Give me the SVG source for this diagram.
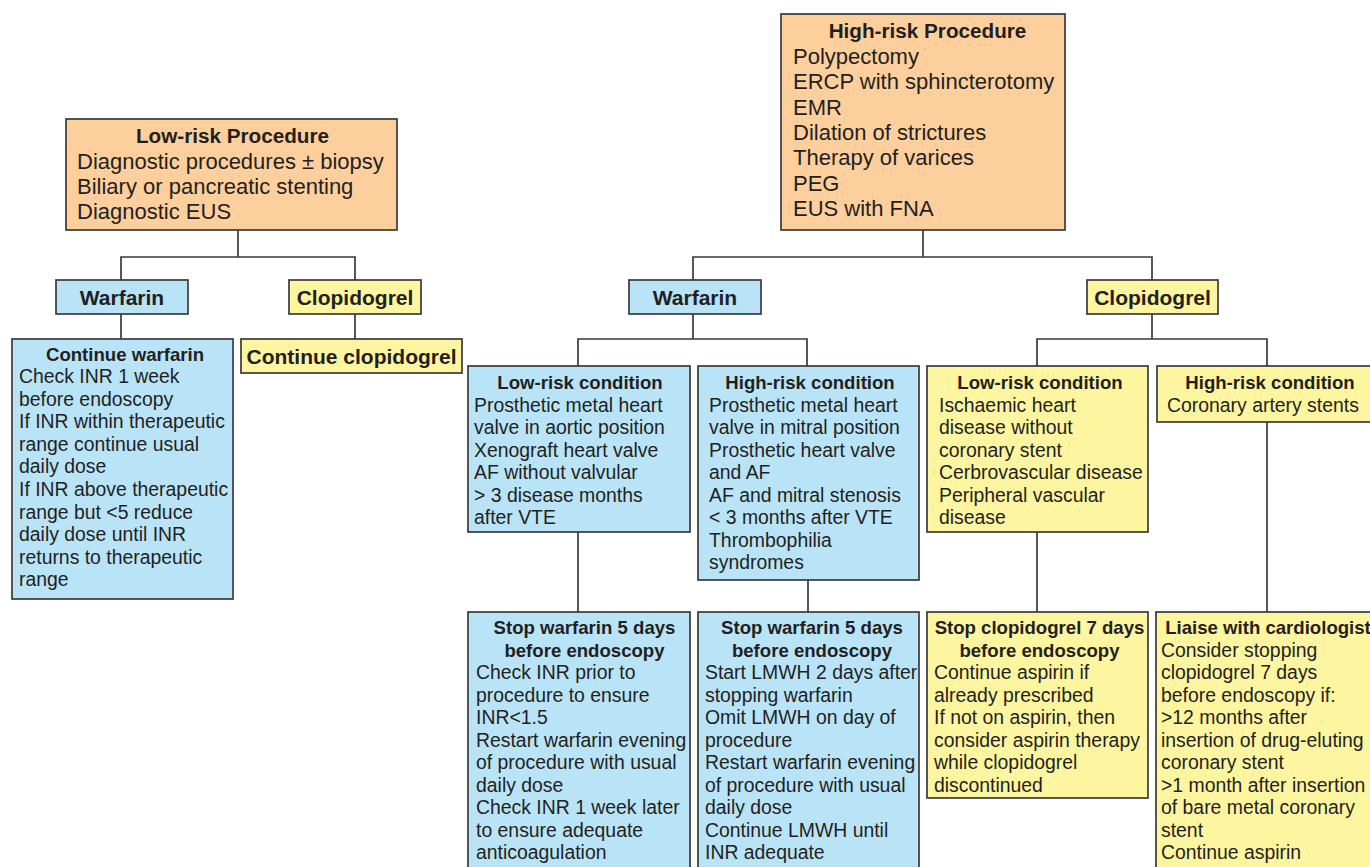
<svg xmlns="http://www.w3.org/2000/svg" width="1370" height="867" viewBox="0 0 1370 867">
<style>
  .o { fill: #FDCF9C; stroke: #3a3a3a; stroke-width: 1.7; }
  .b { fill: #B9E4F8; stroke: #3a3a3a; stroke-width: 1.7; }
  .y { fill: #FEF5A0; stroke: #3a3a3a; stroke-width: 1.7; }
  text { font-family: "Liberation Sans", Arial, sans-serif; fill: #231F20; }
  .th { font-size: 20.7px; font-weight: bold; text-anchor: middle; }
  .tb { font-size: 22px; }
  .lb { font-size: 21px; font-weight: bold; text-anchor: middle; }
  .h { font-size: 18.6px; font-weight: bold; text-anchor: middle; }
  .t { font-size: 19.4px; }
  .con { fill: none; stroke: #3a3a3a; stroke-width: 1.7; }
</style>
<rect width="1370" height="867" fill="#ffffff"/>

<g id="connectors" class="con">
  <path d="M238 230 V257 M121 280 V257 H355 V280"/>
  <path d="M121 314 V339 M355 314 V339"/>
  <path d="M923 230 V257 M693 280 V257 H1152 V280"/>
  <path d="M693 314 V339 M578 366 V339 H807 V366"/>
  <path d="M1152 314 V339 M1037 366 V339 H1267 V366"/>
  <path d="M578 532 V612 M808 580 V612 M1037 532 V612 M1267 422 V612"/>
</g>

<g id="low-risk-procedure">
  <rect class="o" x="66" y="119" width="331" height="111"/>
  <text class="th" x="232.5" y="143">Low-risk Procedure</text>
  <text class="tb" x="77" y="168.5">Diagnostic procedures ± biopsy</text>
  <text class="tb" x="77" y="193.5">Biliary or pancreatic stenting</text>
  <text class="tb" x="77" y="218.5">Diagnostic EUS</text>
</g>

<g id="high-risk-procedure">
  <rect class="o" x="781" y="14" width="284" height="216"/>
  <text class="th" x="927.5" y="38">High-risk Procedure</text>
  <text class="tb" x="793" y="64">Polypectomy</text>
  <text class="tb" x="793" y="89.3">ERCP with sphincterotomy</text>
  <text class="tb" x="793" y="114.6">EMR</text>
  <text class="tb" x="793" y="139.9">Dilation of strictures</text>
  <text class="tb" x="793" y="165.2">Therapy of varices</text>
  <text class="tb" x="793" y="190.5">PEG</text>
  <text class="tb" x="793" y="215.8">EUS with FNA</text>
</g>

<g id="warfarin-low">
  <rect class="b" x="56" y="280" width="132" height="34"/>
  <text class="lb" x="122" y="304.5">Warfarin</text>
</g>

<g id="clopidogrel-low">
  <rect class="y" x="289" y="280" width="132" height="34"/>
  <text class="lb" x="355" y="304.5">Clopidogrel</text>
</g>

<g id="continue-warfarin">
  <rect class="b" x="12" y="339" width="221" height="260"/>
  <text class="h" x="125" y="360.5">Continue warfarin</text>
  <text class="t" x="19" y="383">Check INR 1 week</text>
  <text class="t" x="19" y="405.6">before endoscopy</text>
  <text class="t" x="19" y="428.2">If INR within therapeutic</text>
  <text class="t" x="19" y="450.8">range continue usual</text>
  <text class="t" x="19" y="473.4">daily dose</text>
  <text class="t" x="19" y="496">If INR above therapeutic</text>
  <text class="t" x="19" y="518.6">range but &lt;5 reduce</text>
  <text class="t" x="19" y="541.2">daily dose until INR</text>
  <text class="t" x="19" y="563.8">returns to therapeutic</text>
  <text class="t" x="19" y="586.4">range</text>
</g>

<g id="continue-clopidogrel">
  <rect class="y" x="241" y="339" width="221" height="34"/>
  <text class="lb" x="351.5" y="363.5">Continue clopidogrel</text>
</g>

<g id="warfarin-high">
  <rect class="b" x="629" y="280" width="132" height="34"/>
  <text class="lb" x="695" y="304.5">Warfarin</text>
</g>

<g id="clopidogrel-high">
  <rect class="y" x="1087" y="280" width="131" height="34"/>
  <text class="lb" x="1152.5" y="304.5">Clopidogrel</text>
</g>

<g id="warfarin-low-risk-condition">
  <rect class="b" x="468" y="366" width="222" height="166"/>
  <text class="h" x="580" y="388.5">Low-risk condition</text>
  <text class="t" x="474" y="411.5">Prosthetic metal heart</text>
  <text class="t" x="474" y="434">valve in aortic position</text>
  <text class="t" x="474" y="456.5">Xenograft heart valve</text>
  <text class="t" x="474" y="479">AF without valvular</text>
  <text class="t" x="474" y="501.5">&gt; 3 disease months</text>
  <text class="t" x="474" y="524">after VTE</text>
</g>

<g id="warfarin-high-risk-condition">
  <rect class="b" x="698" y="366" width="221" height="214"/>
  <text class="h" x="810" y="388.5">High-risk condition</text>
  <text class="t" x="709" y="411.5">Prosthetic metal heart</text>
  <text class="t" x="709" y="434">valve in mitral position</text>
  <text class="t" x="709" y="456.5">Prosthetic heart valve</text>
  <text class="t" x="709" y="479">and AF</text>
  <text class="t" x="709" y="501.5">AF and mitral stenosis</text>
  <text class="t" x="709" y="524">&lt; 3 months after VTE</text>
  <text class="t" x="709" y="546.5">Thrombophilia</text>
  <text class="t" x="709" y="569">syndromes</text>
</g>

<g id="stop-warfarin-low">
  <rect class="b" x="468" y="612" width="222" height="270"/>
  <text class="h" x="584.5" y="634">Stop warfarin 5 days</text>
  <text class="h" x="584.5" y="656.5">before endoscopy</text>
  <text class="t" x="476" y="679">Check INR prior to</text>
  <text class="t" x="476" y="701.5">procedure to ensure</text>
  <text class="t" x="476" y="724">INR&lt;1.5</text>
  <text class="t" x="476" y="746.5">Restart warfarin evening</text>
  <text class="t" x="476" y="769">of procedure with usual</text>
  <text class="t" x="476" y="791.5">daily dose</text>
  <text class="t" x="476" y="814">Check INR 1 week later</text>
  <text class="t" x="476" y="836.5">to ensure adequate</text>
  <text class="t" x="476" y="859">anticoagulation</text>
</g>

<g id="stop-warfarin-high">
  <rect class="b" x="698" y="612" width="221" height="270"/>
  <text class="h" x="812" y="634">Stop warfarin 5 days</text>
  <text class="h" x="812" y="656.5">before endoscopy</text>
  <text class="t" x="705" y="679">Start LMWH 2 days after</text>
  <text class="t" x="705" y="701.5">stopping warfarin</text>
  <text class="t" x="705" y="724">Omit LMWH on day of</text>
  <text class="t" x="705" y="746.5">procedure</text>
  <text class="t" x="705" y="769">Restart warfarin evening</text>
  <text class="t" x="705" y="791.5">of procedure with usual</text>
  <text class="t" x="705" y="814">daily dose</text>
  <text class="t" x="705" y="836.5">Continue LMWH until</text>
  <text class="t" x="705" y="859">INR adequate</text>
</g>

<g id="clopidogrel-low-risk-condition">
  <rect class="y" x="927" y="366" width="221" height="166"/>
  <text class="h" x="1040" y="388.5">Low-risk condition</text>
  <text class="t" x="939" y="411.5">Ischaemic heart</text>
  <text class="t" x="939" y="434">disease without</text>
  <text class="t" x="939" y="456.5">coronary stent</text>
  <text class="t" x="939" y="479">Cerbrovascular disease</text>
  <text class="t" x="939" y="501.5">Peripheral vascular</text>
  <text class="t" x="939" y="524">disease</text>
</g>

<g id="clopidogrel-high-risk-condition">
  <rect class="y" x="1157" y="366" width="222" height="56"/>
  <text class="h" x="1270" y="388.5">High-risk condition</text>
  <text class="t" x="1167" y="411.5">Coronary artery stents</text>
</g>

<g id="stop-clopidogrel">
  <rect class="y" x="927" y="612" width="221" height="186"/>
  <text class="h" x="1039.5" y="634">Stop clopidogrel 7 days</text>
  <text class="h" x="1039.5" y="656.5">before endoscopy</text>
  <text class="t" x="934" y="679">Continue aspirin if</text>
  <text class="t" x="934" y="701.5">already prescribed</text>
  <text class="t" x="934" y="724">If not on aspirin, then</text>
  <text class="t" x="934" y="746.5">consider aspirin therapy</text>
  <text class="t" x="934" y="769">while clopidogrel</text>
  <text class="t" x="934" y="791.5">discontinued</text>
</g>

<g id="liaise-cardiologist">
  <rect class="y" x="1156" y="612" width="222" height="270"/>
  <text class="h" x="1268" y="634">Liaise with cardiologist</text>
  <text class="t" x="1161" y="656.5">Consider stopping</text>
  <text class="t" x="1161" y="679">clopidogrel 7 days</text>
  <text class="t" x="1161" y="701.5">before endoscopy if:</text>
  <text class="t" x="1161" y="724">&gt;12 months after</text>
  <text class="t" x="1161" y="746.5">insertion of drug-eluting</text>
  <text class="t" x="1161" y="769">coronary stent</text>
  <text class="t" x="1161" y="791.5">&gt;1 month after insertion</text>
  <text class="t" x="1161" y="814">of bare metal coronary</text>
  <text class="t" x="1161" y="836.5">stent</text>
  <text class="t" x="1161" y="859">Continue aspirin</text>
</g>
</svg>
